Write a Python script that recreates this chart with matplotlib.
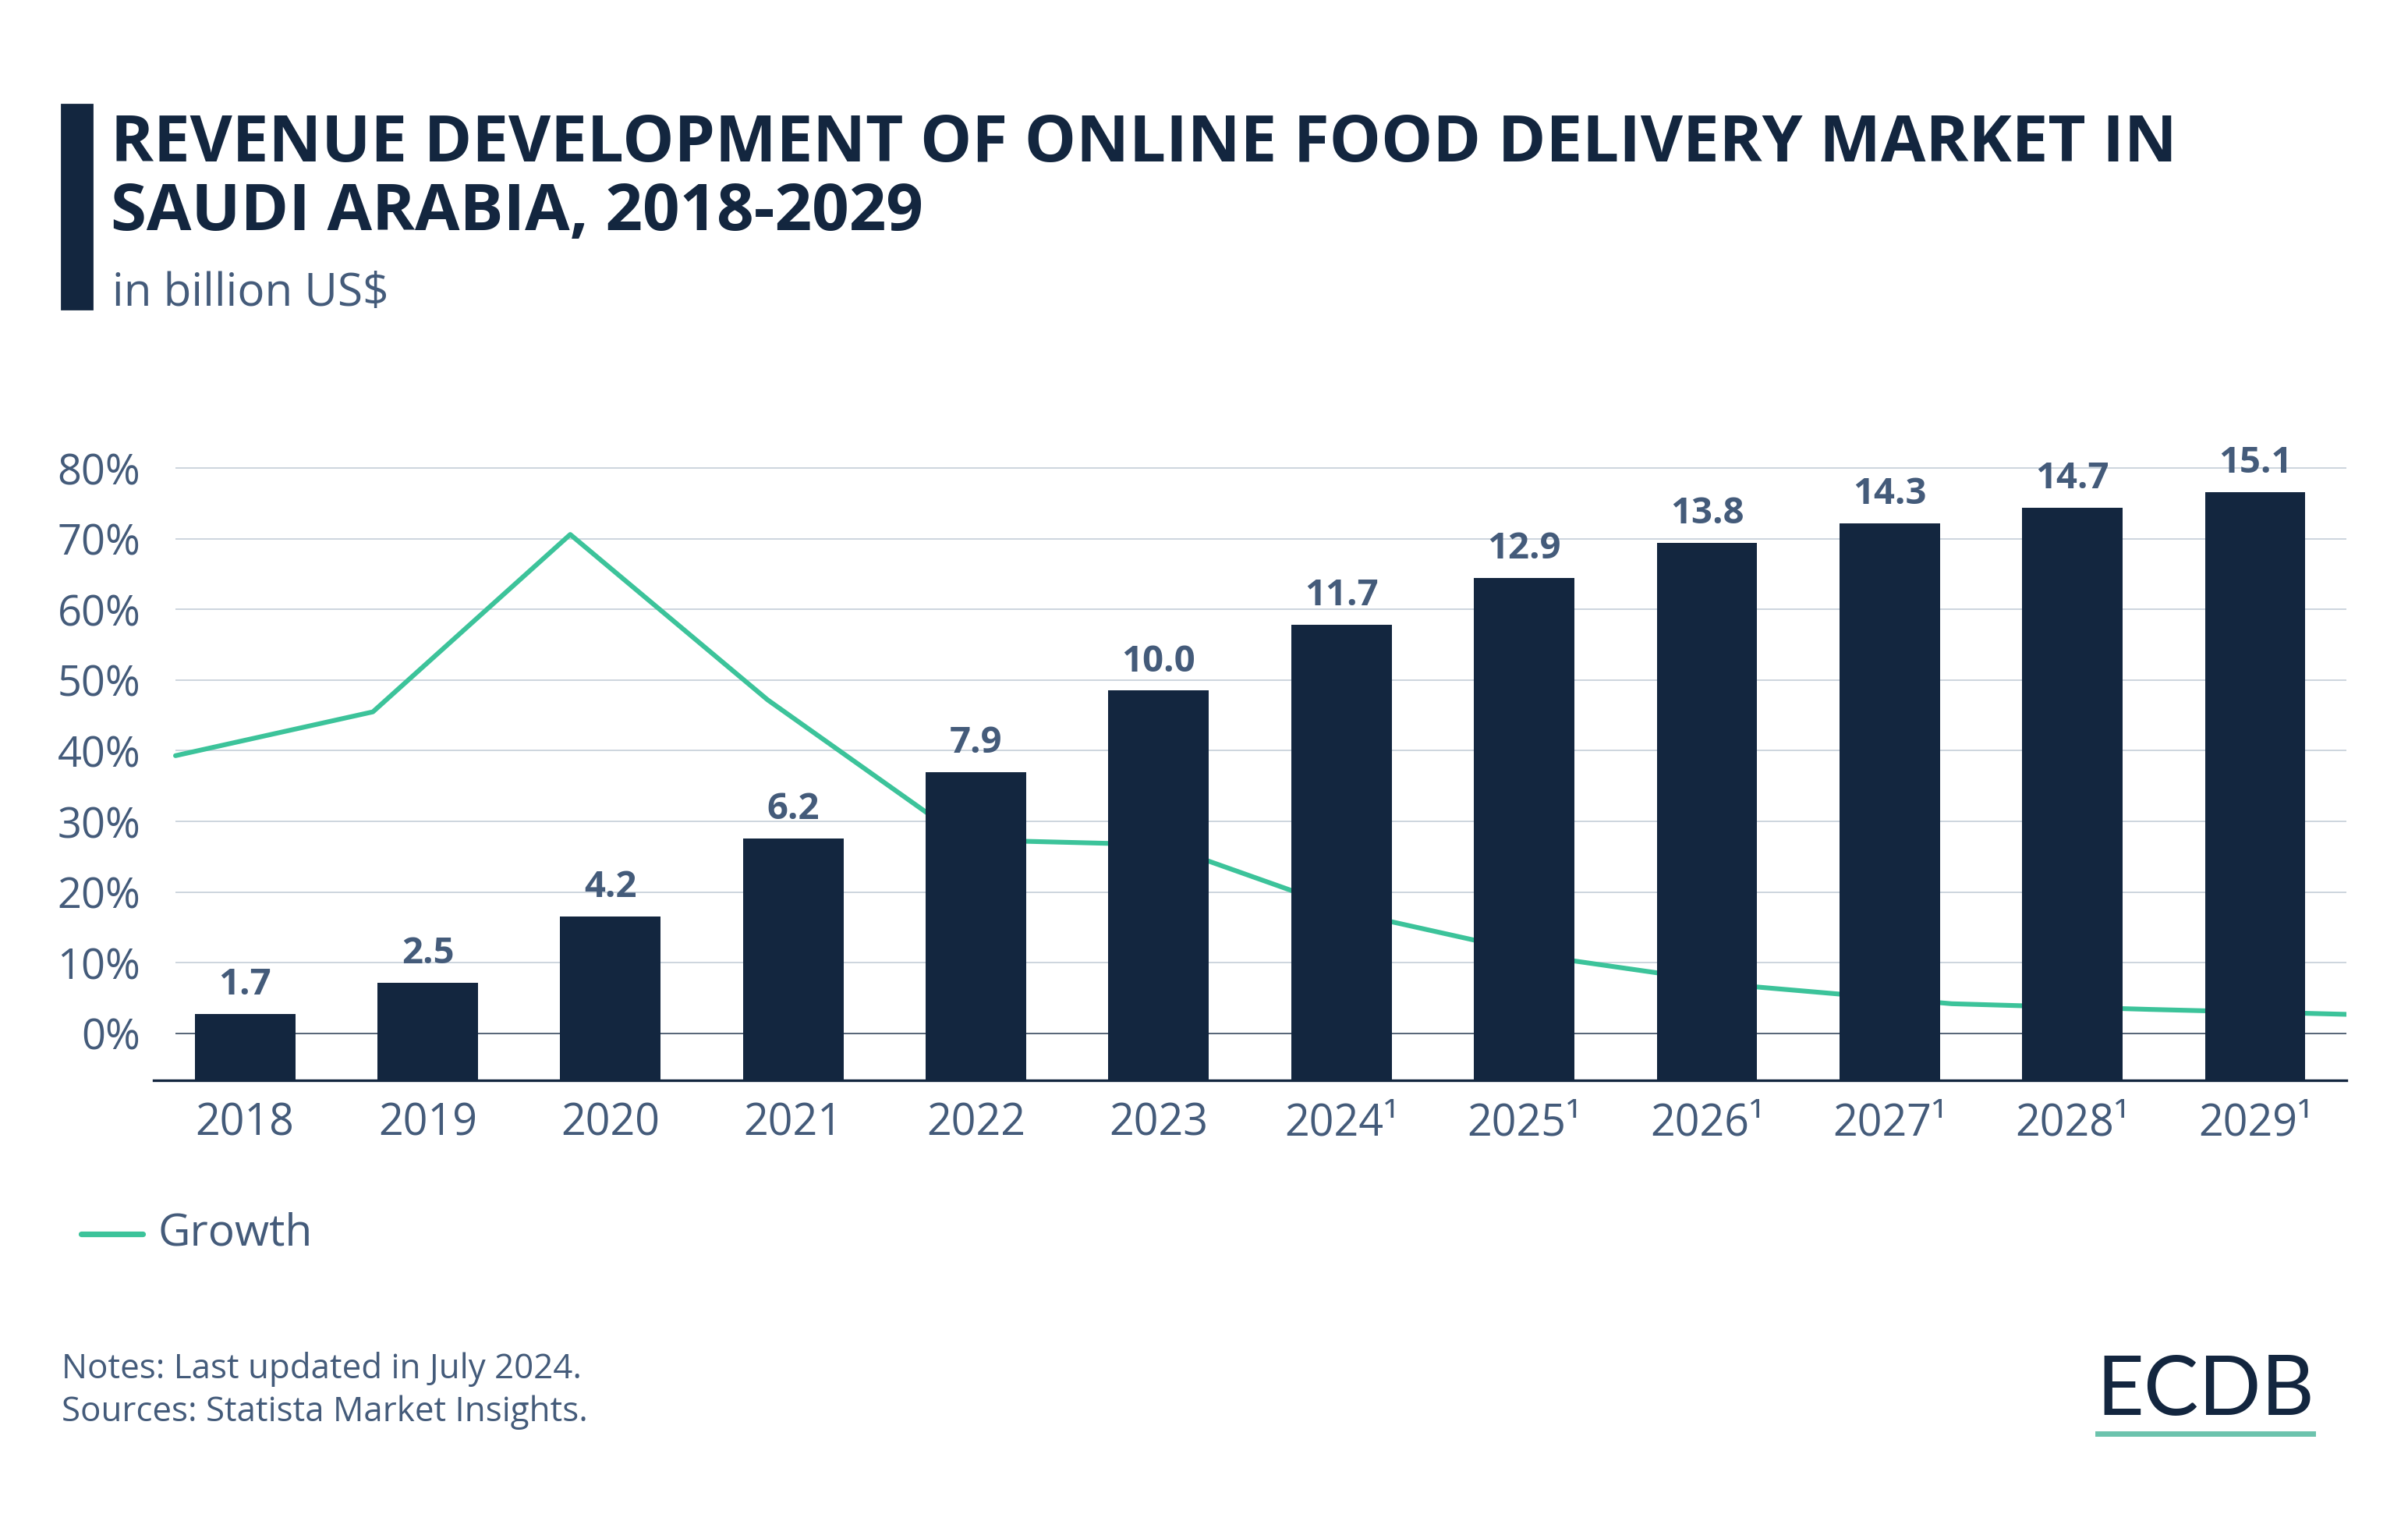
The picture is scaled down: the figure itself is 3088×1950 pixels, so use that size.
"""Revenue development of online food delivery market in Saudi Arabia."""

import matplotlib.pyplot as plt
import numpy as np
from matplotlib.patches import Rectangle
from matplotlib.lines import Line2D

years = ["2018", "2019", "2020", "2021", "2022", "2023",
         "2024¹", "2025¹", "2026¹", "2027¹", "2028¹", "2029¹"]
revenue = [1.7, 2.5, 4.2, 6.2, 7.9, 10.0, 11.7, 12.9, 13.8, 14.3, 14.7, 15.1]
growth = [39.3, 45.5, 70.6, 47.2, 27.4, 26.7, 16.8, 10.6, 6.6, 4.2, 3.4, 2.7]
pct_ticks = [0, 10, 20, 30, 40, 50, 60, 70, 80]

NAVY = "#13263f"
SLATE = "#445b7a"
GREEN = "#3cc39a"
GRID = "#cdd5de"

plt.rcParams["font.family"] = ["Open Sans", "DejaVu Sans"]

fig = plt.figure(figsize=(15.44, 9.75), dpi=200)

# axes rect (fractions of the figure)
left, right = 100 / 1568, 1528 / 1568
bottom = 1 - 703 / 990
pct_lo, pct_hi = -6.6, 85.0
px_per_pct = 4.6 / 990
height = (pct_hi - pct_lo) * px_per_pct
rect = [left, bottom, right - left, height]

# growth line (behind the bars)
ax_line = fig.add_axes(rect, zorder=1)
ax_line.set_ylim(pct_lo, pct_hi)
start_frac = 0.01
n = len(growth)
x0 = -start_frac * (n - 1) / (1 - start_frac)
ax_line.set_xlim(x0, n - 1)
xs = np.arange(n)
ax_line.hlines([t for t in pct_ticks if t != 0], 0, n - 1, color=GRID, lw=0.7, zorder=0)
ax_line.hlines([0], 0, n - 1, color="#3a4a60", lw=0.6, zorder=0)
ax_line.plot(xs, growth, color=GREEN, lw=2.2, solid_capstyle="round", zorder=2)
ax_line.set_yticks(pct_ticks)
ax_line.set_yticklabels([f"{t}%" for t in pct_ticks])
ax_line.tick_params(axis="y", length=0, labelsize=19.5, labelcolor=SLATE, pad=6)
ax_line.set_xticks([])
for s in ax_line.spines.values():
    s.set_visible(False)

# revenue bars (own scale, no visible y axis)
ax_bar = fig.add_axes(rect, zorder=2)
ax_bar.patch.set_visible(False)
rev_top = (pct_hi - pct_lo) / 5.51
ax_bar.set_ylim(0, rev_top)
ax_bar.set_xlim(-0.5, n - 0.5)
bars = ax_bar.bar(np.arange(n), revenue, width=0.55, color=NAVY, zorder=3)
for b, v in zip(bars, revenue):
    ax_bar.annotate(f"{v:.1f}", (b.get_x() + b.get_width() / 2, v),
                    xytext=(0, 5), textcoords="offset points",
                    ha="center", va="bottom", fontsize=17, fontweight="bold",
                    color=SLATE)
ax_bar.set_yticks([])
ax_bar.set_xticks(np.arange(n))
ax_bar.set_xticklabels(years)
ax_bar.tick_params(axis="x", length=0, labelsize=20, labelcolor=SLATE, pad=10)
for k in ["top", "right", "left"]:
    ax_bar.spines[k].set_visible(False)
ax_bar.spines["bottom"].set_color(NAVY)
ax_bar.spines["bottom"].set_linewidth(1.2)

# title block
fig.patches.append(Rectangle((40 / 1568, 1 - 201 / 990), 20 / 1568, 133 / 990,
                             transform=fig.transFigure, color=NAVY))
fig.text(72 / 1568, 1 - 105 / 990,
         "REVENUE DEVELOPMENT OF ONLINE FOOD DELIVERY MARKET IN",
         fontsize=30, fontweight="bold", color=NAVY, va="baseline")
fig.text(72 / 1568, 1 - 150 / 990, "SAUDI ARABIA, 2018-2029",
         fontsize=30, fontweight="bold", color=NAVY, va="baseline")
fig.text(73 / 1568, 1 - 199 / 990, "in billion US$",
         fontsize=21, color=SLATE, va="baseline")

# legend
fig.lines.append(Line2D([53 / 1568, 93 / 1568], [1 - 803 / 990] * 2,
                        transform=fig.transFigure, color=GREEN, lw=2.6,
                        solid_capstyle="round"))
fig.text(103 / 1568, 1 - 803 / 990, "Growth", fontsize=20.5, color=SLATE,
         va="center")

# footer
fig.text(40 / 1568, 1 - 897 / 990, "Notes: Last updated in July 2024.",
         fontsize=15.8, color=SLATE, va="baseline")
fig.text(40 / 1568, 1 - 925 / 990, "Sources: Statista Market Insights.",
         fontsize=15.8, color=SLATE, va="baseline")

# logo
fig.text(1436 / 1568, 1 - 921 / 990, "ECDB", fontsize=38, color=NAVY,
         ha="center", va="baseline", family="Lato")
fig.lines.append(Line2D([1366 / 1568, 1506 / 1568], [1 - 933 / 990] * 2,
                        transform=fig.transFigure, color="#6cc3ad", lw=2.5))

fig.savefig("out.png", dpi=200)
